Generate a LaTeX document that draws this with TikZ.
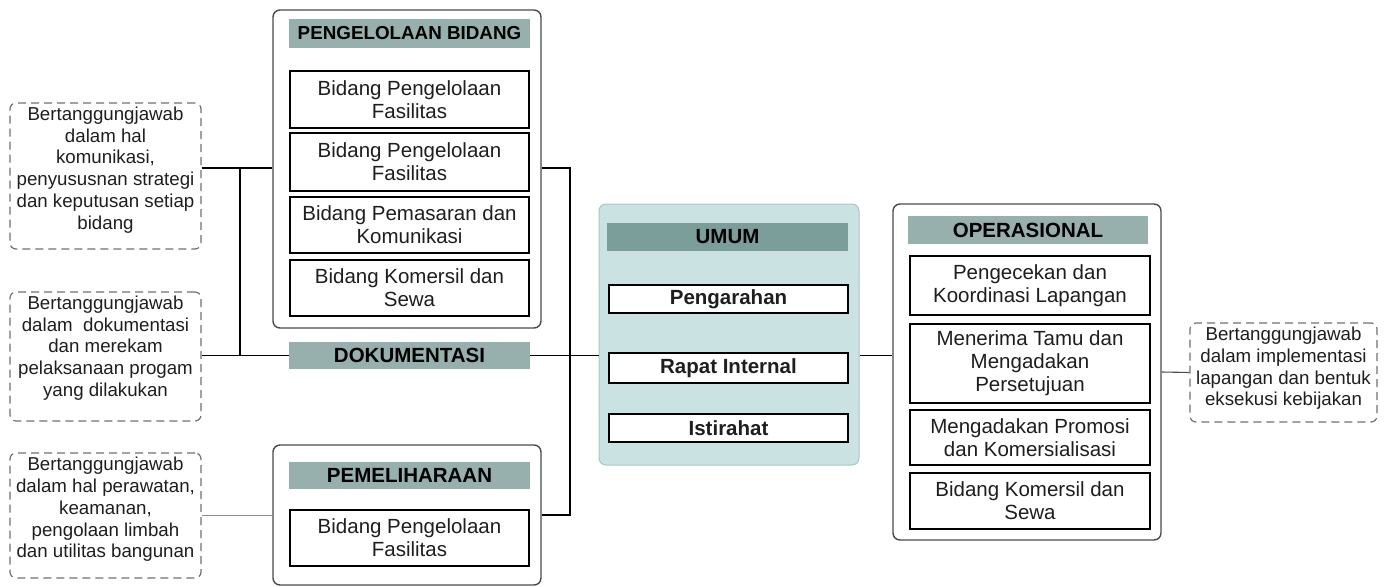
\documentclass[tikz,border=0pt]{standalone}
\usepackage{fontspec}
\setmainfont{Liberation Sans}
\definecolor{outerc}{HTML}{4A4A4A}
\definecolor{hdrc}{HTML}{97B0AD}
\definecolor{umhdr}{HTML}{7C9E9A}
\definecolor{umbg}{HTML}{CAE2E1}
\definecolor{umbd}{HTML}{A9C6C5}
\definecolor{notec}{HTML}{707070}
\definecolor{txt}{HTML}{1E1E1E}
\tikzset{
  outerbox/.style={draw=outerc, line width=1.4pt, rounded corners=7pt, fill=white, inner sep=0pt},
  hdr/.style={fill=#1, text=black, font=\bfseries\fontsize{20.5}{23}\selectfont, inner sep=0pt},
  inbox/.style={draw=black, line width=1.2pt, fill=white, text=txt, align=center, font=\fontsize{20.5}{23}\selectfont, inner sep=0pt},
  bbox/.style={inbox, font=\bfseries\fontsize{20.5}{23}\selectfont},
  note/.style={draw=notec, line width=1.2pt, dash pattern=on 8pt off 5pt, rounded corners=6pt, inner sep=0pt},
  notetext/.style={align=center, text=txt, font=\fontsize{18.7}{21.7}\selectfont, inner sep=0pt},
  conn/.style={draw=black, line width=1.1pt},
}
\begin{document}
\begin{tikzpicture}[x=1pt,y=-1pt]
\useasboundingbox (0,0) rectangle (1386,586);

% ---- PENGELOLAAN BIDANG ----
\node[outerbox, minimum width=268pt, minimum height=318pt] (pb) at (407,169) {};
\node[hdr=hdrc, minimum width=241pt, minimum height=29pt, font=\bfseries\fontsize{18.8}{22}\selectfont] (pbh) at (409.5,33.5) {PENGELOLAAN BIDANG};
\node[inbox, minimum width=239pt, minimum height=57pt] (pb1) at (409.5,99.5) {Bidang Pengelolaan\\Fasilitas};
\node[inbox, minimum width=239pt, minimum height=58pt] (pb2) at (409.5,162) {Bidang Pengelolaan\\Fasilitas};
\node[inbox, minimum width=239pt, minimum height=56pt] (pb3) at (409.5,225) {Bidang Pemasaran dan\\Komunikasi};
\node[inbox, minimum width=239pt, minimum height=56pt] (pb4) at (409.5,288) {Bidang Komersil dan\\Sewa};

% ---- DOKUMENTASI ----
\node[hdr=hdrc, minimum width=241pt, minimum height=27pt] (dok) at (409.5,355.5) {DOKUMENTASI};

% ---- PEMELIHARAAN ----
\node[outerbox, minimum width=268pt, minimum height=140pt] (pem) at (407,515) {};
\node[hdr=hdrc, minimum width=241pt, minimum height=27pt] (pemh) at (409.5,475.5) {PEMELIHARAAN};
\node[inbox, minimum width=239pt, minimum height=56pt] (pem1) at (409.5,538) {Bidang Pengelolaan\\Fasilitas};

% ---- UMUM ----
\node[draw=umbd, fill=umbg, line width=1pt, rounded corners=7pt, minimum width=260pt, minimum height=261pt] (umum) at (729,334.5) {};
\node[hdr=umhdr, minimum width=241pt, minimum height=28pt] (umh) at (727.5,237) {UMUM};
\node[bbox, minimum width=239pt, minimum height=28pt] (um1) at (728.5,299) {Pengarahan};
\node[bbox, minimum width=239pt, minimum height=30pt] (um2) at (728.5,368) {Rapat Internal};
\node[bbox, minimum width=239pt, minimum height=28pt] (um3) at (728.5,428) {Istirahat};

% ---- OPERASIONAL ----
\node[outerbox, minimum width=268pt, minimum height=336pt] (op) at (1027,372) {};
\node[hdr=hdrc, minimum width=240pt, minimum height=28pt] (oph) at (1028,230) {OPERASIONAL};
\node[inbox, minimum width=240pt, minimum height=59pt] (op1) at (1030,285.5) {Pengecekan dan\\Koordinasi Lapangan};
\node[inbox, minimum width=240pt, minimum height=79pt] (op2) at (1030,363.5) {Menerima Tamu dan\\Mengadakan\\Persetujuan};
\node[inbox, minimum width=240pt, minimum height=55pt] (op3) at (1030,437.5) {Mengadakan Promosi\\dan Komersialisasi};
\node[inbox, minimum width=240pt, minimum height=56pt] (op4) at (1030,501) {Bidang Komersil dan\\Sewa};

% ---- dashed notes ----
\node[note, minimum width=191pt, minimum height=146pt] (d1) at (105.5,176) {};
\node[notetext] (d1t) at (105.5,170) {Bertanggungjawab\\dalam hal\\komunikasi,\\penyususnan strategi\\dan keputusan setiap\\bidang};
\node[note, minimum width=191pt, minimum height=129pt] (d2) at (105.5,356.5) {};
\node[notetext] (d2t) at (105.5,348) {Bertanggungjawab\\dalam\ \ dokumentasi\\dan merekam\\pelaksanaan progam\\yang dilakukan};
\node[note, minimum width=191pt, minimum height=125pt] (d3) at (105.5,515.5) {};
\node[notetext] (d3t) at (105.5,509.5) {Bertanggungjawab\\dalam hal perawatan,\\keamanan,\\pengolaan limbah\\dan utilitas bangunan};
\node[note, minimum width=187pt, minimum height=99pt] (dr) at (1283.5,372.5) {};
\node[notetext] (drt) at (1283.5,368.5) {Bertanggungjawab\\dalam implementasi\\lapangan dan bentuk\\eksekusi kebijakan};

% ---- connectors ----
\coordinate (j1) at (240,168);
\coordinate (k1) at (570,168);
\coordinate (k3) at (570,515);
\draw[conn] (d1.east |- j1) -- (pb.west |- j1);
\draw[conn] (j1) -- (j1 |- dok);
\draw[conn] (d2.east |- dok) -- (dok.west);
\draw[conn, draw=black!45, line width=0.9pt] (d3.east |- k3) -- (pem.west |- k3);
\draw[conn] (pb.east |- k1) -- (k1) -- (k3) -- (pem.east |- k3);
\draw[conn] (dok.east) -- (umum.west |- dok);
\draw[conn] (umum.east |- dok) -- (op.west |- dok);
\draw[conn, draw=black!70] (op.east) -- (dr.west);
\end{tikzpicture}
\end{document}
